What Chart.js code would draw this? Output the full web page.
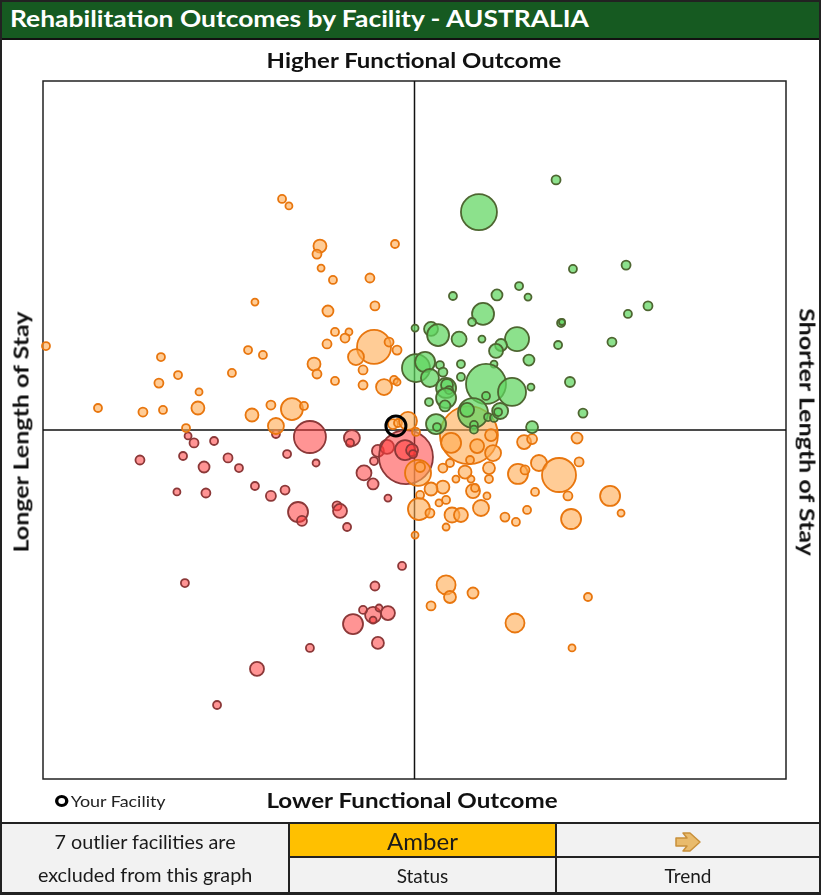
<!DOCTYPE html>
<html>
<head>
<meta charset="utf-8">
<script src="https://cdn.jsdelivr.net/npm/chart.js@4.4.1/dist/chart.umd.min.js"></script>
<style>
    html, body { margin: 0; padding: 0; background: #fff; }
    body { font-family: Lato, "Open Sans", sans-serif; }
    #frame { position: relative; width: 821px; height: 895px; overflow: hidden; }
    #chart { position: absolute; left: 0; top: 0; }
    .edge { position: absolute; left: 0; top: 0; width: 821px; height: 895px; box-sizing: border-box; border: 2px solid #222; pointer-events: none; }
    .title { position: absolute; left: 0; top: 0; width: 821px; height: 38px; background: #165a21; border-bottom: 2px solid #111; }
    .title span { position: absolute; left: 10px; top: 0; line-height: 38px; color: #fff; font-weight: 700; font-size: 22px; white-space: nowrap; transform: scaleX(1.2); transform-origin: left center; }
    .label { position: absolute; font-weight: 700; font-size: 21px; color: #111; white-space: nowrap; line-height: 1; }
    .legend { position: absolute; left: 55px; top: 791px; font-size: 16px; color: #222; white-space: nowrap; transform: scaleX(1.12); transform-origin: left center; }
    .legend i { display: inline-block; width: 6px; height: 6px; border: 3px solid #000; border-radius: 50%; vertical-align: 0; margin-right: 2px; }
    table { position: absolute; left: 0; top: 822px; width: 821px; height: 72px; border-collapse: collapse; font-size: 19px; font-weight: 400; color: #1a1a1a; }
    td { border: 2px solid #222; background: #f2f2f2; text-align: center; padding: 0; }
    td.amber { background: #ffc000; font-size: 24px; height: 32px; }
    .wide { display: inline-block; transform: scaleX(1.04); }
</style>
</head>
<body>
<div id="frame">
    <canvas id="chart" width="821" height="895"></canvas>
    <div class="title"><span>Rehabilitation Outcomes by Facility - AUSTRALIA</span></div>
    <div class="label" style="left:414px;top:59px;transform:translate(-50%,-50%) scaleX(1.14);">Higher Functional Outcome</div>
    <div class="label" style="left:412px;top:799px;transform:translate(-50%,-50%) scaleX(1.15);">Lower Functional Outcome</div>
    <div class="label" style="left:20px;top:432px;transform:translate(-50%,-50%) rotate(-90deg) scaleX(1.19);">Longer Length of Stay</div>
    <div class="label" style="left:808px;top:432px;transform:translate(-50%,-50%) rotate(90deg) scaleX(1.19);">Shorter Length of Stay</div>
    <div class="legend"><i></i>Your Facility</div>
    <table>
        <tr>
            <td rowspan="2" style="width:286px;line-height:33px;"><span class="wide">7 outlier facilities are<br>excluded from this graph</span></td>
            <td class="amber" style="width:265px;">Amber</td>
            <td style="height:32px;">
                <svg width="30" height="22" viewBox="0 0 30 22" style="vertical-align:middle">
                    <path d="M3 7 H14 L10 2 H17 L27 11 L17 20 H10 L14 15 H3 Z" fill="#e9bb6c" stroke="#c8903a" stroke-width="1.5" stroke-linejoin="round"/>
                </svg>
            </td>
        </tr>
        <tr>
            <td>Status</td>
            <td>Trend</td>
        </tr>
    </table>
    <div class="edge"></div>
</div>
<script>
// axis: x = length of stay vs expected (positive = shorter), y = functional gain vs expected
const xRange = [-20, 20];
const yRange = [-20, 20];

// [x, y, bubble radius]
const yourFacility = [[-1.00, 0.23, 10]];

const greenFacilities = [
    [7.62, 14.33, 4.5], [3.47, 12.49, 18], [8.53, 9.23, 4], [11.39, 9.45, 4.5],
    [12.57, 7.11, 4.5], [11.49, 6.65, 4], [7.89, 6.13, 4], [7.94, 6.19, 3],
    [2.07, 7.68, 4], [4.44, 7.74, 5.5], [5.63, 8.25, 4], [6.11, 7.62, 3.5],
    [3.69, 6.65, 11], [3.10, 6.19, 4], [0.03, 5.84, 3.5], [0.89, 5.79, 7],
    [1.27, 5.44, 11], [2.40, 5.21, 7.5], [3.63, 5.21, 3.5], [5.52, 5.21, 12],
    [7.73, 4.87, 4], [10.63, 5.04, 4.5], [4.66, 4.87, 6], [4.39, 4.53, 7],
    [6.16, 4.01, 5.5], [2.50, 3.78, 4], [4.28, 3.78, 3.5], [0.08, 3.55, 14],
    [0.57, 3.90, 10], [0.83, 2.98, 9], [1.37, 3.72, 4], [1.53, 3.32, 4.5],
    [2.50, 3.04, 4], [3.85, 2.64, 20], [5.25, 2.18, 14], [6.27, 2.46, 3.5],
    [8.37, 2.75, 5], [1.70, 2.41, 10], [1.75, 2.58, 6], [1.86, 2.29, 4],
    [0.78, 1.60, 4], [1.70, 1.83, 10], [1.64, 1.38, 5.5], [3.85, 1.95, 4],
    [3.15, 0.97, 15], [2.83, 1.15, 7], [3.96, 0.74, 4], [4.28, 0.69, 4],
    [4.61, 1.09, 8], [4.50, 1.03, 4], [1.16, 0.34, 10], [1.21, 0.17, 4],
    [3.20, 0.29, 4], [3.20, 0.02, 4], [6.33, 0.17, 6], [9.07, 0.97, 4.5],
];

const amberFacilities = [
    [-7.13, 13.24, 4], [-6.76, 12.84, 3.5], [-5.09, 10.54, 6.5], [-5.25, 10.08, 4.5],
    [-5.03, 9.28, 3.5], [-1.05, 10.66, 4], [-4.39, 8.60, 4], [-2.40, 8.71, 4.5],
    [-8.59, 7.33, 3.5], [-4.66, 6.82, 5.5], [-2.13, 7.11, 4.5], [-4.28, 5.62, 4],
    [-3.53, 5.62, 3.5], [-3.74, 5.27, 4.5], [-4.71, 4.93, 4.5], [-2.18, 4.76, 17],
    [-1.37, 5.04, 4.5], [-3.15, 4.18, 8], [-0.94, 4.58, 4.5], [-8.96, 4.58, 4],
    [-8.16, 4.30, 4], [-13.65, 4.18, 4], [-5.41, 3.78, 6.5], [-5.25, 3.21, 4.5],
    [-2.77, 3.44, 4.5], [-9.83, 3.27, 4], [-12.73, 3.15, 4], [-13.76, 2.69, 4.5],
    [-11.60, 2.18, 3.5], [-4.28, 2.81, 4], [-2.77, 2.58, 4.5], [-1.64, 2.46, 8],
    [-1.10, 2.87, 4], [-0.94, 2.75, 3.5], [-14.62, 1.03, 4.5], [-13.54, 1.15, 4],
    [-11.66, 1.26, 6.5], [-8.75, 0.86, 6.5], [-7.73, 1.43, 4.5], [-6.60, 1.20, 11],
    [-5.95, 1.38, 4], [-7.46, 0.23, 8], [-12.30, 0.11, 4], [-19.84, 4.81, 4],
    [-17.04, 1.26, 4], [-1.16, 0.34, 5], [-0.89, 0.40, 4], [-0.35, 0.52, 9],
    [0.08, -0.11, 4], [2.93, -0.29, 29], [1.97, -0.74, 10], [3.37, -0.92, 7],
    [2.99, -1.72, 4], [4.23, -1.32, 8], [4.12, -0.29, 6], [5.90, -0.69, 7],
    [6.33, -0.52, 5], [8.75, -0.46, 5.5], [6.70, -1.89, 8], [7.78, -2.58, 17],
    [8.86, -1.83, 4.5], [5.57, -2.52, 10], [5.95, -2.29, 4.5], [10.53, -3.78, 10],
    [11.12, -4.76, 3.5], [8.43, -5.10, 10], [8.26, -3.78, 4.5], [6.49, -3.55, 4],
    [6.06, -4.58, 4], [5.46, -5.27, 4], [4.87, -4.99, 4.5], [3.58, -4.47, 8],
    [3.90, -3.78, 3.5], [3.15, -3.50, 7], [3.26, -3.32, 4], [3.04, -2.81, 3.5],
    [2.72, -2.41, 6.5], [2.23, -2.81, 3.5], [4.01, -2.81, 4], [4.01, -2.18, 6],
    [1.53, -3.27, 6.5], [0.89, -3.38, 6.5], [1.53, -2.18, 4.5], [1.91, -1.89, 4],
    [0.19, -2.46, 13], [0.30, -2.12, 5], [0.30, -3.72, 4], [0.24, -4.53, 11],
    [0.83, -4.76, 4.5], [1.32, -4.18, 3.5], [1.70, -4.01, 4], [2.02, -4.87, 7.5],
    [2.50, -4.87, 7], [1.70, -5.56, 3.5], [0.03, -6.02, 3.5], [1.70, -8.88, 9.5],
    [1.91, -9.57, 6], [3.15, -9.34, 5.5], [0.89, -10.08, 4.5], [5.41, -11.06, 9.5],
    [9.34, -9.57, 4], [8.48, -12.49, 3.5],
];

const redFacilities = [
    [-12.19, -0.34, 3.5], [-11.87, -0.74, 4.5], [-10.79, -0.63, 4], [-14.78, -1.72, 4.5],
    [-12.46, -1.49, 4], [-10.04, -1.60, 4.5], [-11.33, -2.12, 5.5], [-9.45, -2.18, 4],
    [-12.79, -3.55, 3.5], [-11.23, -3.61, 4.5], [-8.59, -3.21, 4], [-7.73, -3.78, 5],
    [-6.97, -3.44, 4.5], [-5.63, -0.40, 16], [-3.37, -0.46, 8], [-3.47, -0.74, 4],
    [-6.86, -1.38, 4], [-5.30, -1.89, 3.5], [-2.72, -2.46, 7.5], [-2.23, -3.09, 5.5],
    [-2.18, -1.78, 4], [-1.97, -1.20, 6], [-1.48, -0.97, 7], [-0.46, -1.55, 27],
    [-0.51, -1.15, 10], [-0.13, -1.15, 6], [-0.08, -1.38, 4], [-6.27, -4.70, 10],
    [-6.06, -5.21, 5], [-4.17, -4.35, 4.5], [-4.01, -4.64, 7], [-3.63, -5.56, 4],
    [-1.43, -3.90, 3.5], [-7.46, -0.23, 4], [-12.36, -8.77, 4], [-10.63, -15.76, 4],
    [-8.48, -13.69, 7], [-5.63, -12.49, 4], [-3.31, -11.12, 10], [-2.23, -10.60, 8],
    [-2.23, -10.89, 3.5], [-1.91, -10.20, 3.5], [-2.77, -10.31, 4], [-1.43, -10.49, 7],
    [-1.97, -12.20, 6], [-2.13, -8.94, 4.5], [-0.67, -7.79, 4],
];

const toPoints = (rows) => rows.map(([x, y, r]) => ({ x, y, r }));

function bubbleSet(label, rows, fill, stroke, width) {
    return {
        label,
        data: toPoints(rows),
        backgroundColor: fill,
        borderColor: stroke,
        borderWidth: width,
        clip: false,
    };
}

// frame round the plot area plus the two quadrant lines through zero
const quadrantLines = {
    id: 'quadrantLines',
    beforeDatasetsDraw(chart) {
        const { ctx, chartArea: area, scales } = chart;
        const cx = scales.x.getPixelForValue(0);
        const cy = scales.y.getPixelForValue(0);

        ctx.save();
        ctx.strokeStyle = '#222';
        ctx.lineWidth = 1.5;
        ctx.strokeRect(area.left, area.top, area.right - area.left, area.bottom - area.top);
        ctx.strokeStyle = '#111';
        ctx.beginPath();
        ctx.moveTo(cx, area.top);
        ctx.lineTo(cx, area.bottom);
        ctx.moveTo(area.left, cy);
        ctx.lineTo(area.right, cy);
        ctx.stroke();
        ctx.restore();
    },
};

new Chart(document.getElementById('chart'), {
    type: 'bubble',
    data: {
        datasets: [
            bubbleSet('Your Facility', yourFacility, 'rgba(0,0,0,0)', '#000', 3),
            bubbleSet('Green', greenFacilities, 'rgba(95, 214, 95, 0.72)', '#4e6631', 1.8),
            bubbleSet('Amber', amberFacilities, 'rgba(255, 170, 80, 0.6)', '#e8760e', 1.8),
            bubbleSet('Red', redFacilities, 'rgba(255, 60, 60, 0.55)', '#8c3838', 1.8),
        ],
    },
    options: {
        responsive: false,
        animation: false,
        layout: { padding: { left: 43, right: 35, top: 81, bottom: 116 } },
        scales: {
            x: { min: xRange[0], max: xRange[1], display: false },
            y: { min: yRange[0], max: yRange[1], display: false },
        },
        plugins: {
            legend: { display: false },
            tooltip: { enabled: false },
        },
    },
    plugins: [quadrantLines],
});
</script>
</body>
</html>
